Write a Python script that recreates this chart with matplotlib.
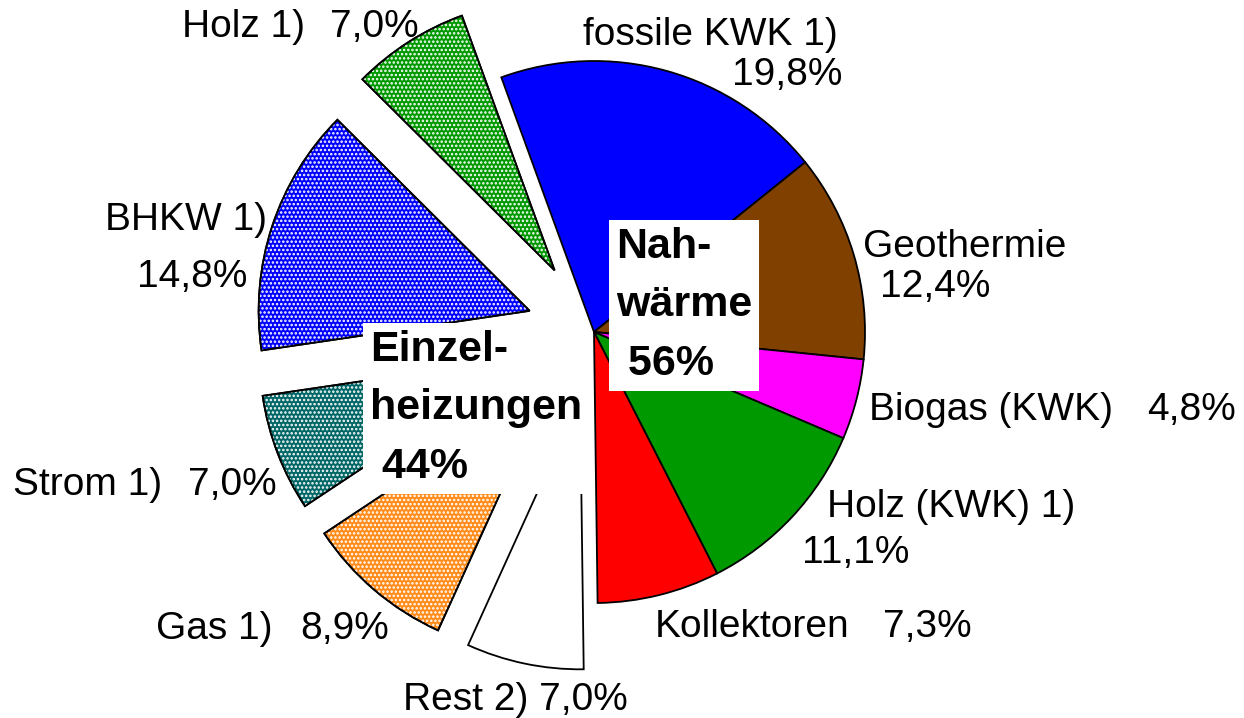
import matplotlib.pyplot as plt
from matplotlib.patches import Wedge

plt.rcParams['font.family'] = ['Liberation Sans', 'DejaVu Sans']
plt.rcParams['hatch.linewidth'] = 1.2

# Anteile der Waermeversorgung
names = ['fossile KWK 1)', 'Geothermie', 'Biogas (KWK)', 'Holz (KWK) 1)', 'Kollektoren',
         'Rest 2)', 'Gas 1)', 'Strom 1)', 'BHKW 1)', 'Holz 1)']
shares = [19.8, 12.4, 4.8, 11.1, 7.3, 7.0, 8.9, 7.0, 14.8, 7.0]
colors = ['#0000ff', '#804000', '#ff00ff', '#009900', '#ff0000',
          '#ffffff', '#ff8c1a', '#006666', '#0000ff', '#009900']
hatched = [False, False, False, False, False, False, True, True, True, True]
explode = [0, 0, 0, 0, 0, 0.25, 0.25, 0.25, 0.25, 0.27]

group_names = ['Nah-\nwärme', 'Einzel-\nheizungen']
group_shares = [56, 44]

W, H = 1244, 718
R = 271

# label layout in pixels (x, baseline y, ha) for name and percentage
name_pos = [(838, 45, 'right'), (863, 257, 'left'), (869, 420, 'left'), (827, 517, 'left'),
            (655, 637, 'left'), (403, 710, 'left'), (156, 639, 'left'), (13, 495, 'left'),
            (105, 230, 'left'), (182, 37, 'left')]
pct_pos = [(842, 85, 'right'), (880, 297, 'left'), (1147, 420, 'left'), (802, 563, 'left'),
           (883, 637, 'left'), None, (300, 639, 'left'), (188, 495, 'left'),
           (137, 287, 'left'), (330, 37, 'left')]
# group boxes: left x, baseline of last line
group_pos = [(616, 375), (370, 478)]


def fmt(v):
    return ('%.1f' % v).replace('.', ',') + '%'


fig = plt.figure(figsize=(W / 100, H / 100), dpi=100)
ax = fig.add_axes([0, 0, 1, 1])

wedges, _ = ax.pie(shares, colors=colors, explode=[e * R for e in explode],
                   startangle=110, counterclock=False, radius=R, center=(594, H - 332),
                   wedgeprops=dict(edgecolor='black', linewidth=1.3))

# white dotted fill pattern on the exploded slices
for w, h in zip(wedges, hatched):
    if not h:
        continue
    ax.add_patch(Wedge(w.center, w.r, w.theta1, w.theta2, facecolor='none',
                       edgecolor='white', linewidth=0, hatch='....', zorder=1.1))
    ax.add_patch(Wedge(w.center, w.r, w.theta1, w.theta2, facecolor='none',
                       edgecolor='black', linewidth=1.3, zorder=1.2))

fs = 28
for i in range(len(names)):
    x, y, ha = name_pos[i]
    label = names[i]
    if pct_pos[i] is None:
        label = label + ' ' + fmt(shares[i])
    ax.text(x, H - y, label, fontsize=fs, ha=ha, va='baseline')
    if pct_pos[i] is not None:
        x, y, ha = pct_pos[i]
        ax.text(x, H - y, fmt(shares[i]), fontsize=fs, ha=ha, va='baseline')

box = dict(boxstyle='square,pad=0.16', facecolor='white', edgecolor='none')
for g in range(2):
    x, y = group_pos[g]
    ax.text(x, H - y, group_names[g] + '\n %d%%' % group_shares[g], fontsize=31,
            fontweight='bold', ha='left', va='baseline', linespacing=1.6, bbox=box, zorder=5)

ax.set_xlim(0, W)
ax.set_ylim(0, H)
ax.axis('off')

fig.savefig('out.png', dpi=100)
